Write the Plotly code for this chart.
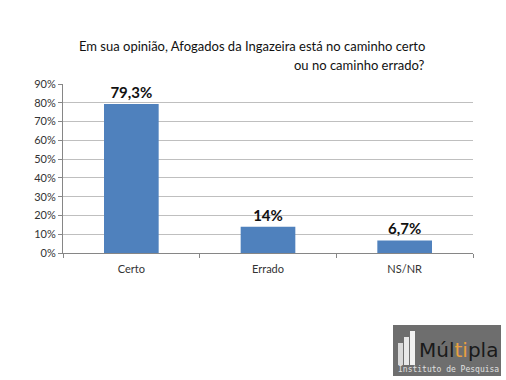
import plotly.graph_objects as go

categories = ["Certo", "Errado", "NS/NR"]
values = [0.793, 0.14, 0.067]
value_labels = ["79,3%", "14%", "6,7%"]
title_lines = ["Em sua opinião, Afogados da Ingazeira está no caminho certo",
               "ou no caminho errado?"]

W, H = 506, 380
fig = go.Figure()
fig.add_trace(go.Bar(
    x=categories, y=values, text=value_labels, textposition="outside",
    textfont=dict(family="Lato, Open Sans, sans-serif", size=15, color="#111111", weight="bold"),
    marker=dict(color="#4F81BD", line=dict(width=0)), width=0.4, cliponaxis=False,
    hoverinfo="skip",
))

fig.update_layout(
    width=W, height=H, margin=dict(l=63, r=33, t=84, b=127),
    paper_bgcolor="white", plot_bgcolor="white", showlegend=False,
    font=dict(family="Lato, Open Sans, sans-serif", size=11, color="#333333"),
    xaxis=dict(showline=True, linecolor="#868686", linewidth=1, ticks="outside",
               tickson="boundaries", ticklen=4, tickcolor="#868686", showgrid=False,
               ticklabelstandoff=6, tickfont=dict(size=11, color="#333333")),
    yaxis=dict(range=[0, 0.9], dtick=0.1, tickformat=".0%", showline=True,
               linecolor="#868686", linewidth=1, ticks="outside", ticklen=4,
               tickcolor="#868686", showgrid=True, gridcolor="#BFBFBF", gridwidth=1,
               zeroline=False, tickfont=dict(size=11, color="#333333")),
)

for i, line in enumerate(title_lines):
    fig.add_annotation(text=line, xref="paper", yref="paper", x=(427 - 63) / 410,
                       y=1 + (84 - (46 + 19 * i)) / 169, xanchor="right", yanchor="middle",
                       showarrow=False, font=dict(size=13, color="#111111"))

# logo (decorative)
def px(x):
    return (x - 63) / 410
def py(y):
    return (253 - y) / 169

fig.add_shape(type="rect", xref="paper", yref="paper", x0=px(393), x1=px(501),
              y0=py(376), y1=py(325), fillcolor="#6E6E6E", line=dict(width=0), layer="above")
for bx, top, col in [(398, 343, "#D9D9D9"), (404, 337, "#E8E8E8"), (410, 331, "#F2F2F2")]:
    fig.add_shape(type="rect", xref="paper", yref="paper", x0=px(bx), x1=px(bx + 5),
                  y0=py(365), y1=py(top), fillcolor=col, line=dict(width=0), layer="above")
fig.add_annotation(text="Múl<span style='color:#E8A040'>ti</span>pla", xref="paper", yref="paper",
                   x=px(417), y=py(350),
                   xanchor="left", yanchor="middle", showarrow=False,
                   font=dict(size=20, color="#1A1A1A", family="DejaVu Sans"))
fig.add_annotation(text="Instituto de Pesquisa", xref="paper", yref="paper",
                   x=px(448), y=py(369), xanchor="center", yanchor="middle", showarrow=False,
                   font=dict(size=8, color="#E0E0E0", family="DejaVu Sans Mono"))

fig.write_html("out.html", config={"displayModeBar": False, "staticPlot": True},
               post_script="document.body.style.margin='0';document.body.style.overflow='hidden';")
